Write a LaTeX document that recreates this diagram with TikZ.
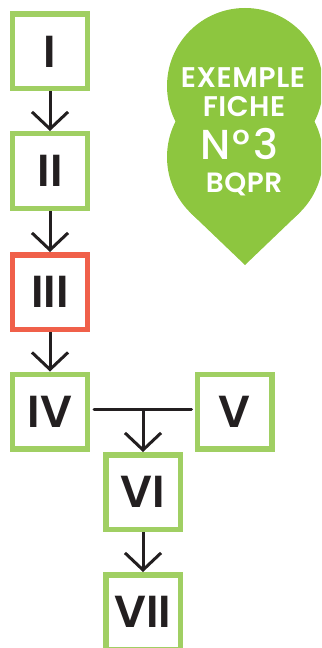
\documentclass[tikz,border=0pt]{standalone}
\usepackage{fontspec}
\setmainfont{Poppins}
\newfontfamily\boxfont{Poppins}[UprightFont=* SemiBold]
\newfontfamily\dropfont{Poppins}[UprightFont=* SemiBold, LetterSpace=2]
\newfontfamily\numfont{Poppins}[UprightFont=* Medium, LetterSpace=6]
\usetikzlibrary{arrows.meta}
\definecolor{boxgreen}{HTML}{A0CF63}
\definecolor{dropgreen}{HTML}{8DC63F}
\definecolor{boxred}{HTML}{F0604A}
\definecolor{ink}{HTML}{231F20}
\tikzset{
  stepbox/.style={draw=boxgreen, fill=white, line width=5.5bp, minimum width=74.5bp, minimum height=74.5bp, inner sep=0pt, font=\boxfont\fontsize{45}{45}\selectfont, text=ink},
  redbox/.style={stepbox, draw=boxred},
  link/.style={draw=ink, line width=3bp, -{Straight Barb[length=17bp,width=36bp,line width=3bp]}},
  plainlink/.style={draw=ink, line width=3bp, line cap=round},
  droptext/.style={text=white, inner sep=0pt, anchor=base}
}
\begin{document}
\begin{tikzpicture}[x=1bp,y=-1bp]
\useasboundingbox (0,0) rectangle (321,648);
\clip (0,0) rectangle (321,648);
% drop badge
\fill[dropgreen] (245,86) circle[radius=78];
\fill[dropgreen] (245,157) circle[radius=78];
\fill[dropgreen] (191,213.3) -- (245,265) -- (299,213.3) -- (245,157) -- cycle;
\node[droptext, font=\dropfont\fontsize{28.5}{28.5}\selectfont] (t1) at (243,88) {EXEMPLE};
\node[droptext, font=\dropfont\fontsize{28.5}{28.5}\selectfont] (t2) at (244,117) {FICHE};
\node[droptext, font=\numfont\fontsize{42}{42}\selectfont] (t3) at (239,160) {N°3};
\node[droptext, font=\dropfont\fontsize{28}{28}\selectfont] (t4) at (244,193) {BQPR};
% boxes
\node[stepbox] (I) at (50,51.5) {I};
\node[stepbox] (II) at (50,171) {II};
\node[redbox] (III) at (50,292) {III};
\node[stepbox] (IV) at (50,411.5) {IV};
\node[stepbox] (V) at (234.5,411.5) {V};
\node[stepbox] (VI) at (143,492) {VI};
\node[stepbox] (VII) at (143,612) {VII};
% connectors
\draw[link] (I) -- (II);
\draw[link] (II) -- (III);
\draw[link] (III) -- (IV);
\draw[plainlink] ([xshift=4bp,yshift=2bp]IV.east) -- ([xshift=-3bp,yshift=2bp]V.west);
\coordinate (j) at ([yshift=2bp]VI.north |- IV.east);
\draw[link] (j) -- (VI);
\draw[link] (VI) -- (VII);
\end{tikzpicture}
\end{document}
